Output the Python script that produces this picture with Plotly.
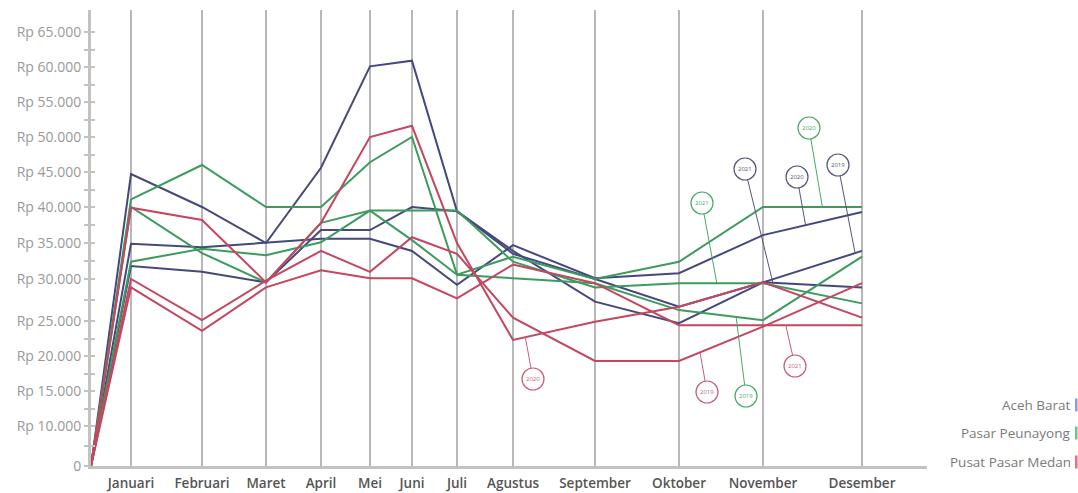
import numpy as np
import plotly.graph_objects as go

# ---------------------------------------------------------------------------
# Data: monthly prices (Rupiah) per market and year
# ---------------------------------------------------------------------------
MONTHS = ["Januari", "Februari", "Maret", "April", "Mei", "Juni", "Juli",
          "Agustus", "September", "Oktober", "November", "Desember"]
YEARS = ["2019", "2020", "2021"]
REGIONS = ["Aceh Barat", "Pasar Peunayong", "Pusat Pasar Medan"]

aceh_barat_2019 = [31800, 31000, 29600, 36800, 36800, 40000, 39400, 33900, 27300, 24700, 29600, 33900]
aceh_barat_2020 = [34900, 34400, 35000, 35600, 35600, 33900, 29300, 34700, 30100, 30800, 36100, 39300]
aceh_barat_2021 = [44700, 40000, 35000, 45600, 60100, 60900, 39400, 33500, 30000, 26700, 29600, 29000]

peunayong_2019 = [41100, 46000, 40000, 40000, 46400, 50000, 30600, 30100, 29500, 26300, 25100, 33100]
peunayong_2020 = [40000, 33600, 29600, 37800, 39500, 35400, 30600, 33100, 30000, 32400, 40000, 40000]
peunayong_2021 = [32400, 34200, 33300, 35100, 39500, 39500, 39500, 32400, 29000, 29500, 29500, 27100]

medan_2019 = [30000, 25100, 29800, 33900, 31000, 35800, 33500, 25400, 19300, 19300, 24200, 29500]
medan_2020 = [39900, 38200, 29600, 37800, 50000, 51600, 35000, 22300, 24900, 26700, 29600, 25400]
medan_2021 = [29000, 23600, 29000, 31200, 30100, 30100, 27700, 32000, 29500, 24400, 24400, 24400]

Y_TICK_VALUES = [0, 10000, 15000, 20000, 25000, 30000, 35000,
                 40000, 45000, 50000, 55000, 60000, 65000]
Y_TICK_LABELS = ["0", "Rp 10.000", "Rp 15.000", "Rp 20.000", "Rp 25.000",
                 "Rp 30.000", "Rp 35.000", "Rp 40.000", "Rp 45.000",
                 "Rp 50.000", "Rp 55.000", "Rp 60.000", "Rp 65.000"]

# ---------------------------------------------------------------------------
# Layout: axis geometry (uneven month spacing, stretched value scale)
# ---------------------------------------------------------------------------
ORIGIN_X = 91
MONTH_X = [131, 202, 266, 321, 370, 412, 457, 513, 595, 679, 763, 862]
X_END = 927
Y_SCALE_POS = [0, 40, 75, 110, 145, 187, 223, 259, 294, 329, 364, 399, 434]
Y_TOP = 456
BASE = 466  # page row of the value axis zero line

COLORS = {"Aceh Barat": "#45487c", "Pasar Peunayong": "#3d9b5e",
          "Pusat Pasar Medan": "#c4465f"}
TAG_COLORS = {"Aceh Barat": "#55557a", "Pasar Peunayong": "#4aa86a",
              "Pusat Pasar Medan": "#c95d78"}
KEY_COLORS = {"Aceh Barat": "#8d9be2", "Pasar Peunayong": "#5ccf80",
              "Pusat Pasar Medan": "#f06a86"}

series = {
    ("Aceh Barat", "2019"): aceh_barat_2019,
    ("Aceh Barat", "2020"): aceh_barat_2020,
    ("Aceh Barat", "2021"): aceh_barat_2021,
    ("Pasar Peunayong", "2019"): peunayong_2019,
    ("Pasar Peunayong", "2020"): peunayong_2020,
    ("Pasar Peunayong", "2021"): peunayong_2021,
    ("Pusat Pasar Medan", "2019"): medan_2019,
    ("Pusat Pasar Medan", "2020"): medan_2020,
    ("Pusat Pasar Medan", "2021"): medan_2021,
}


def to_axis(values):
    return np.interp(values, Y_TICK_VALUES, Y_SCALE_POS)


def fmt_rp(v):
    return "Rp {:,}".format(int(v)).replace(",", ".")


fig = go.Figure()

for (region, year), vals in series.items():
    full = [0] + list(vals)
    fig.add_trace(go.Scatter(
        x=[ORIGIN_X] + MONTH_X,
        y=to_axis(full),
        mode="lines",
        line=dict(color=COLORS[region], width=2),
        name=f"{region} {year}",
        customdata=[fmt_rp(v) for v in full],
        text=[""] + MONTHS,
        hovertemplate="%{text}: %{customdata}<extra>" + f"{region} {year}" + "</extra>",
        showlegend=False,
    ))

# empty trace so the mirrored tick axis is drawn
fig.add_trace(go.Scatter(x=[], y=[], yaxis="y2", showlegend=False, hoverinfo="skip"))

# ---------------------------------------------------------------------------
# Year tags: circle position, and where the leader meets the line
# (segment start month index and fraction along that segment)
# ---------------------------------------------------------------------------
TAGS = [
    ("Pusat Pasar Medan", "2020", 7, 0.15, 533, 379),
    ("Pusat Pasar Medan", "2019", 9, 0.25, 707, 392),
    ("Pasar Peunayong", "2019", 9, 0.68, 746, 396),
    ("Pusat Pasar Medan", "2021", 10, 0.23, 795, 366),
    ("Pasar Peunayong", "2021", 9, 0.45, 702, 203),
    ("Aceh Barat", "2021", 10, 0.10, 745, 169),
    ("Aceh Barat", "2020", 10, 0.43, 797, 177),
    ("Pasar Peunayong", "2020", 10, 0.60, 809, 128),
    ("Aceh Barat", "2019", 10, 0.93, 838, 165),
]
R = 11

shapes = []
circles = []
annotations = []
for region, year, i, t, cx, cy in TAGS:
    vals = to_axis(series[(region, year)])
    tx = MONTH_X[i] + t * (MONTH_X[i + 1] - MONTH_X[i])
    ty = vals[i] + t * (vals[i + 1] - vals[i])
    c = TAG_COLORS[region]
    cyy = BASE - cy
    shapes.append(dict(type="line", xref="x", yref="y", x0=cx, y0=cyy, x1=tx, y1=ty,
                       line=dict(color=c, width=1), layer="above"))
    circles.append(dict(type="circle", xref="x", yref="y", x0=cx - R, x1=cx + R,
                        y0=cyy - R, y1=cyy + R, fillcolor="white",
                        line=dict(color=c, width=1.2), layer="above"))
    annotations.append(dict(x=cx, y=cyy, xref="x", yref="y", text=year, showarrow=False,
                            font=dict(size=6, color=c, family="Open Sans")))
shapes += circles

# Legend on the right: label text followed by a small colour bar
LEGEND_ROWS = [405, 433, 462]
W = X_END - ORIGIN_X
for region, row in zip(REGIONS, LEGEND_ROWS):
    annotations.append(dict(
        x=(1073 - ORIGIN_X) / W, y=(BASE - row) / Y_TOP, xref="paper", yref="paper",
        xanchor="right", yanchor="middle", text=region, showarrow=False,
        font=dict(size=13.5, color="#7a7a7a", family="Open Sans")))
    shapes.append(dict(type="rect", xref="paper", yref="paper",
                       x0=(1075 - ORIGIN_X) / W, x1=(1077.5 - ORIGIN_X) / W,
                       y0=(BASE - row - 6.5) / Y_TOP, y1=(BASE - row + 6.5) / Y_TOP,
                       fillcolor=KEY_COLORS[region], line=dict(width=0), layer="above"))

major = list(to_axis(Y_TICK_VALUES))
minor_vals = [(a + b) / 2 for a, b in zip(Y_TICK_VALUES[:-1], Y_TICK_VALUES[1:])]
minor = list(to_axis(minor_vals))
axis_grey = "#c2c2c2"

fig.update_layout(
    width=1078, height=493,
    margin=dict(l=ORIGIN_X, r=1078 - X_END, t=10, b=493 - BASE, autoexpand=False),
    paper_bgcolor="white", plot_bgcolor="white",
    font=dict(family="Open Sans"),
    xaxis=dict(
        range=[ORIGIN_X, X_END], tickmode="array", tickvals=MONTH_X, ticktext=MONTHS,
        showgrid=True, gridcolor="#b8b8b8", gridwidth=1.5, zeroline=False,
        showline=True, linecolor=axis_grey, linewidth=3, ticks="",
        ticklabelstandoff=3, automargin=False,
        tickfont=dict(size=13.5, color="#555555", family="Open Sans", weight=600),
        fixedrange=True,
    ),
    yaxis=dict(
        range=[0, Y_TOP], tickmode="array", tickvals=major, ticktext=Y_TICK_LABELS,
        showgrid=False, zeroline=False, showline=True, linecolor=axis_grey, linewidth=3,
        ticks="outside", ticklen=4, tickwidth=1.5, tickcolor=axis_grey,
        minor=dict(tickmode="array", tickvals=minor, ticks="outside", ticklen=4,
                   tickwidth=1.5, tickcolor=axis_grey, showgrid=False),
        tickfont=dict(size=14, color="#999999", family="Open Sans"),
        automargin=False, fixedrange=True,
    ),
    yaxis2=dict(
        overlaying="y", anchor="x", side="left", range=[0, Y_TOP],
        tickmode="array", tickvals=major, showticklabels=False,
        showgrid=False, zeroline=False, showline=False,
        ticks="inside", ticklen=4, tickwidth=1.5, tickcolor=axis_grey,
        minor=dict(tickmode="array", tickvals=minor, ticks="inside", ticklen=4,
                   tickwidth=1.5, tickcolor=axis_grey, showgrid=False),
        automargin=False, fixedrange=True,
    ),
    shapes=shapes,
    annotations=annotations,
    showlegend=False,
)

fig.write_html("out.html")
